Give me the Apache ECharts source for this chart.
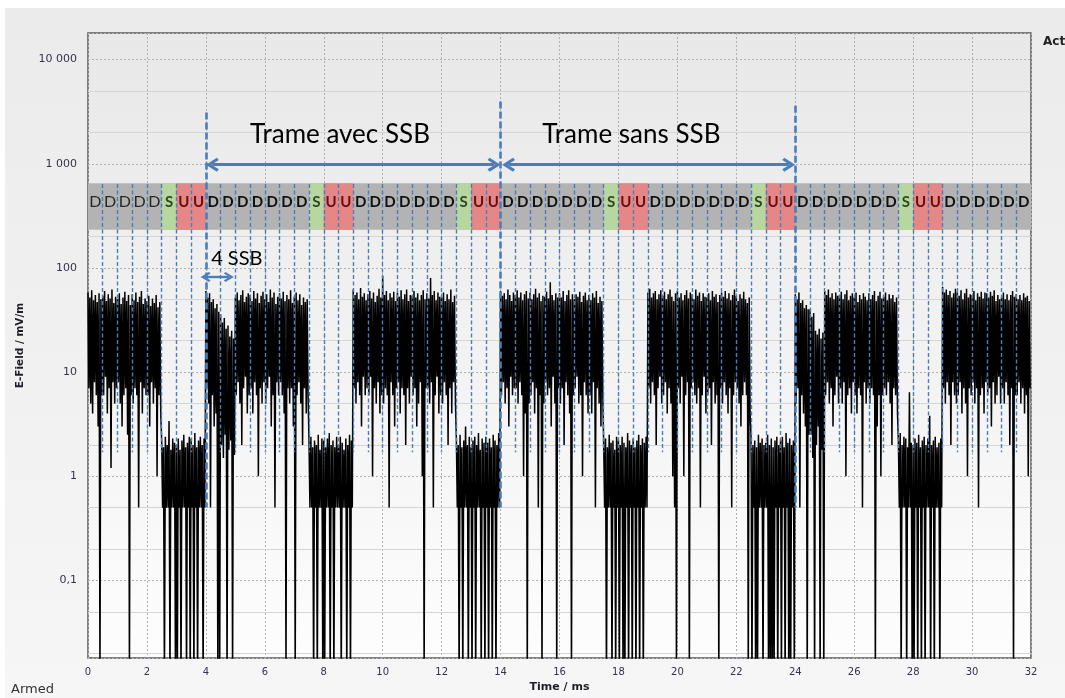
<!DOCTYPE html>
<html><head><meta charset="utf-8">
<script src="https://cdn.jsdelivr.net/npm/echarts@6/dist/echarts.min.js"></script>
<style>
html,body{margin:0;padding:0;background:#fff;}
#bg{position:absolute;left:5px;top:8px;width:1060px;height:690px;background:linear-gradient(#ebebeb,#f6f6f6);}
#main{position:absolute;left:0;top:0;width:1065px;height:698px;}
</style></head><body><div id="bg"></div><div id="main"></div>
<script>
// ---- data ----
const slotMs = 0.5;
const slotLetters = ['D','D','D','D','D','S','U','U',
 'D','D','D','D','D','D','D','S','U','U',
 'D','D','D','D','D','D','D','S','U','U',
 'D','D','D','D','D','D','D','S','U','U',
 'D','D','D','D','D','D','D','S','U','U',
 'D','D','D','D','D','D','D','S','U','U',
 'D','D','D','D','D','D'];
// peak samples per slot (mV/m), 8 per slot
const traceHi = [
[58,52,61,49,55,47,57,50],[54,60,48,56,51,62,46,53],[50,57,45,52,59,48,55,44],[56,49,58,47,53,60,45,51],
[48,54,43,51,46,55,42,47],[2.2,1.9,2.4,2.0,3.4,1.8,2.3,2.1],[2.0,2.3,1.8,2.2,2.5,1.9,2.1,2.4],[2.3,2.0,2.6,1.9,2.2,2.4,2.0,2.3],
[60,52,57,47,50,41,45,38],[36,30,33,26,28,22,25,21],[52,58,49,55,61,47,53,57],[55,48,60,51,57,46,54,59],
[50,56,47,62,52,58,45,53],[57,51,59,48,55,50,61,46],[53,58,49,56,44,52,47,50],[2.1,2.4,1.9,2.2,2.0,2.5,1.8,2.3],
[2.2,1.9,2.3,2.6,2.0,2.2,1.9,2.4],[2.0,2.4,2.1,1.8,2.3,2.0,2.5,2.2],[62,55,58,50,64,53,57,49],[56,60,51,58,47,54,63,52],
[84,55,60,49,57,52,59,48],[58,53,61,50,56,62,48,55],[54,60,52,57,49,55,61,50],[57,51,80,55,60,49,58,53],
[52,58,48,56,50,62,47,54],[2.3,2.0,2.5,1.9,2.2,3.0,2.0,2.4],[1.9,2.2,2.4,2.0,2.6,1.8,2.3,2.1],[2.4,2.1,2.3,1.9,2.5,2.2,2.0,2.6],
[60,54,57,50,62,55,48,58],[55,61,52,58,49,56,60,51],[58,50,56,63,52,57,48,54],[53,59,51,73,55,49,57,52],
[57,52,60,48,55,61,50,56],[50,56,53,59,47,54,58,49],[55,49,57,52,60,46,53,48],[2.0,2.3,1.9,2.5,2.1,2.2,1.8,2.4],
[2.2,2.0,2.4,2.1,1.9,2.6,2.2,2.0],[2.3,1.9,2.2,2.5,2.0,2.3,2.1,2.4],[58,63,52,57,60,50,56,61],[54,59,50,56,62,53,48,57],
[60,52,57,49,55,61,51,58],[56,50,62,54,58,48,57,53],[52,57,49,60,53,56,47,55],[58,53,60,51,57,49,55,62],
[54,48,56,51,59,50,46,52],[2.4,2.0,2.2,1.9,2.5,2.1,2.3,2.0],[2.1,2.5,2.0,2.3,1.9,2.2,2.4,2.0],[2.2,2.4,1.9,2.6,2.1,2.3,2.0,2.2],
[56,50,58,46,49,41,44,40],[40,34,37,25,23,26,21,24],[60,55,62,52,57,50,58,54],[55,59,50,56,61,49,54,57],
[52,58,47,55,50,57,53,49],[57,50,55,60,48,54,59,51],[53,58,49,56,51,55,47,52],[2.2,2.6,2.0,2.4,2.3,1.9,6.4,2.1],
[2.0,2.3,2.1,2.5,1.9,2.2,2.4,2.0],[2.3,3.8,2.0,2.2,2.4,1.9,2.1,2.3],[66,58,62,55,60,52,57,63],[58,54,61,50,57,63,52,56],
[55,60,49,57,53,59,51,58],[57,52,59,54,61,48,55,50],[52,58,50,56,49,55,60,53],[56,50,55,49,57,52,54,48]
];
// trough samples per slot (mV/m); 0.01 = below the axis floor
const traceLo = [
[7,5,4,8,6,3,0.01,6],[6,9,4,7,1.2,8,5,7],[8,5,3,6,7,2.5,0.01,6],[5,7,6,0.5,8,4,7,6],
[6,3,8,5,7,1,6,4],[0.5,0.01,0.5,0.5,0.01,0.5,0.5,0.01],[0.01,0.5,0.01,0.5,0.5,0.01,0.5,0.01],[0.5,0.01,0.5,0.01,0.5,0.5,0.01,0.5],
[7,5,0.5,6,3,4,0.01,0.01],[2,1.5,2.5,0.01,1.8,2.2,0.01,1.6],[6,8,5,2,7,9,4,6],[7,4,8,6,1,7,5,8],
[5,7,9,3,6,0.5,8,6],[8,6,4,0.01,7,5,7,3],[0.01,6,8,5,2,7,4,6],[0.5,0.5,0.01,0.5,0.01,0.5,0.5,0.01],
[0.01,0.5,0.5,0.01,0.5,0.01,0.5,0.5],[0.5,0.01,0.5,0.5,0.01,0.5,0.01,0.5],[7,5,8,6,3,9,6,7],[6,9,1,7,5,8,4,6],
[5,7,6,0.5,8,6,3,7],[8,4,7,6,2,7,5,9],[6,7,3,5,8,1,0.01,7],[7,5,8,0.5,6,9,4,6],
[5,8,6,2,7,4,8,5],[0.5,0.01,0.5,0.01,0.5,0.5,0.01,0.5],[0.01,0.5,0.01,0.5,0.5,0.01,0.5,0.01],[0.5,0.01,0.5,0.01,0.5,0.01,0.5,0.5],
[6,8,5,7,3,9,6,7],[7,5,8,6,1,4,0.01,5],[6,8,4,7,0.5,6,0.01,5],[8,6,7,3,9,5,0.01,7],
[5,7,2,8,6,4,0.01,6],[7,9,5,6,1,8,6,4],[6,4,8,0.5,7,5,3,6],[0.5,0.01,0.5,0.5,0.01,0.5,0.01,0.5],
[0.01,0.5,0.01,0.01,0.5,0.01,0.5,0.01],[0.5,0.01,0.5,0.01,0.5,0.01,0.5,0.5],[7,5,8,6,2,7,9,5],[6,8,4,7,5,1,0.5,0.01],
[7,5,9,1,6,8,0.01,7],[8,6,5,7,0.5,6,9,4],[6,7,2,8,5,6,0.01,7],[5,8,6,4,7,0.5,6,8],
[7,5,3,6,8,6,0.01,4],[0.01,0.5,0.01,0.01,0.5,0.5,0.01,0.5],[0.5,0.01,0.01,0.01,0.01,0.5,0.01,0.5],[0.01,0.5,0.01,0.5,0.01,0.01,0.5,0.01],
[5,7,0.5,6,4,3,0.01,2.5],[2.5,1.5,0.01,2,3,0.01,1.8,0.01],[6,8,5,7,3,6,9,5],[7,5,8,1,6,7,4,8],
[6,4,7,6,0.5,8,5,7],[5,7,6,0.01,3,6,1,6],[7,6,8,5,2,7,6,4],[0.5,0.01,0.5,0.5,0.01,0.5,0.5,0.01],
[0.01,0.5,0.01,0.5,0.01,0.5,0.01,0.5],[0.5,0.01,0.5,0.01,0.5,0.5,0.01,0.5],[7,5,8,6,2,8,6,5],[6,8,4,7,5,1,7,6],
[8,5,7,0.5,6,7,4,8],[6,7,3,8,5,6,9,5],[7,5,8,6,2,7,0.01,6],[6,8,5,7,4,6,1,7]
];
const yTickValues = [0.1, 1, 10, 100, 1000, 10000];
const yTickLabels = ['0,1', '1', '10', '100', '1 000', '10 000'];
const yMinorGrid = [0.02,0.05,0.2,0.5,2,5,20,50,200,500,2000,5000];
const bandRange = [232, 650];
const letterLevel = 430;
const slotLineRange = [640, 1.7];
const frameMarkers = [[4, 3100], [14, 3950], [24, 3600]];
const frameMarkerBottom = 0.5;
const frameArrows = [[4.0, 14.0], [14.05, 24.0]];
const frameArrowLevel = 980;
const frameLabels = [['Trame avec SSB', 8.55, 1900], ['Trame sans SSB', 18.44, 1900]];
const ssbArrow = [3.82, 4.95];
const ssbArrowLevel = 82;
const ssbLabel = ['4 SSB', 5.05, 124];

// ---- build ----
const perSlot = traceHi[0].length, step = slotMs / perSlot;
const trace = [];
traceHi.forEach((row, k) => row.forEach((h, j) => {
  const t = k * slotMs + j * step;
  trace.push([t, h]);
  trace.push([t + step / 2, traceLo[k][j]]);
}));
const blue = '#4a7ebb';
const letterColor = {D: '#111111', S: '#2d4a1a', U: '#6a0c0c'};
const slotFill = {S: '#b8d7a0', U: '#e68787'};
const nSlots = slotLetters.length;

const slotAreas = [];
slotLetters.forEach((c, k) => {
  if (slotFill[c]) slotAreas.push([{xAxis: k*slotMs, yAxis: bandRange[0], itemStyle: {color: slotFill[c], opacity: 1}}, {xAxis: (k+1)*slotMs, yAxis: bandRange[1]}]);
});
const thinLines = [];
for (let k = 1; k < nSlots; k++) {
  const t = k * slotMs;
  if (frameMarkers.some(f => Math.abs(f[0] - t) < 1e-9)) continue;
  thinLines.push([{coord: [t, slotLineRange[0]]}, {coord: [t, slotLineRange[1]]}]);
}
const thickLines = frameMarkers.map(f => [{coord: [f[0], f[1]], lineStyle: {width: 2.6, type: [7, 3], color: blue}}, {coord: [f[0], frameMarkerBottom]}]);
const letters = slotLetters.map((c, k) => ({coord: [k*slotMs + slotMs/2, letterLevel], name: c,
  label: k < 5 ? {color: '#262626', fontWeight: 'normal', fontSize: 16} : {color: letterColor[c]}}));

const chev = 'path://M7,0 L14,11 L11.6,13 L7,5.6 L2.4,13 L0,11 Z';
const pxPerMs = 942 / 32;
const bigInset = 6.5 / pxPerMs, smallInset = 5 / pxPerMs;

const chart = echarts.init(document.getElementById('main'), null, {renderer: 'canvas'});
chart.setOption({
  animation: false,
  backgroundColor: 'transparent',
  grid: {left: 88, right: 34, top: 33, bottom: 40, show: true, borderColor: '#5a5a5a', borderWidth: 1.5,
    backgroundColor: {type: 'linear', x: 0, y: 0, x2: 0, y2: 1, colorStops: [{offset: 0, color: '#e8e8e8'}, {offset: 0.45, color: '#f1f1f1'}, {offset: 1, color: '#fdfdfd'}]}},
  xAxis: {type: 'value', min: 0, max: 32, interval: 2,
    axisLine: {show: false}, axisTick: {show: false},
    axisLabel: {color: '#35334a', fontSize: 10, fontFamily: 'DejaVu Sans', margin: 9},
    splitLine: {show: true, lineStyle: {color: '#b0b0b0', type: [2, 2], width: 1}},
    name: 'Time / ms', nameLocation: 'middle', nameGap: 23,
    nameTextStyle: {fontWeight: 'bold', fontSize: 11, color: '#1e1e2a', fontFamily: 'DejaVu Sans'}},
  yAxis: {type: 'log', logBase: 10, min: 0.018, max: 18000,
    axisLine: {show: false}, axisTick: {show: false},
    axisLabel: {color: '#35334a', fontSize: 11, fontFamily: 'DejaVu Sans', margin: 11,
      formatter: v => { const i = yTickValues.findIndex(t => Math.abs(t - v) / t < 1e-6); return i >= 0 ? yTickLabels[i] : ''; }},
    splitLine: {show: true, lineStyle: {color: '#b0b0b0', type: [2, 2], width: 1}},
    name: 'E-Field / mV/m', nameLocation: 'middle', nameGap: 62, nameRotate: 90,
    nameTextStyle: {fontWeight: 'bold', fontSize: 10.5, color: '#1e1e2a', fontFamily: 'DejaVu Sans'}},
  graphic: [
    {type: 'text', left: 1043, top: 36, style: {text: 'Act', font: 'bold 12px "DejaVu Sans"', fill: '#222'}},
    {type: 'text', left: 11, top: 683, style: {text: 'Armed', font: '13px "DejaVu Sans"', fill: '#333'}}
  ],
  series: [
    {type: 'line', data: [], z: 1, silent: true,
      markLine: {z: 1, silent: true, symbol: 'none', label: {show: false}, animation: false,
        lineStyle: {color: '#d5d5d5', type: 'solid', width: 1},
        data: yMinorGrid.map(v => ({yAxis: v}))}},
    {type: 'line', data: [], z: 2, silent: true,
      markArea: {z: 2, silent: true, itemStyle: {color: '#b3b3b3', opacity: 1},
        data: [[{xAxis: 0, yAxis: bandRange[0]}, {xAxis: 32, yAxis: bandRange[1]}]]}},
    {type: 'line', data: [], z: 3, silent: true,
      markArea: {z: 3, silent: true, data: slotAreas}},
    {type: 'line', data: trace, z: 4, silent: true, showSymbol: false, symbol: 'none', clip: true,
      lineStyle: {color: '#000', width: 1.5}},
    {type: 'line', data: [], z: 5, silent: true,
      markLine: {z: 5, silent: true, symbol: 'none', label: {show: false}, animation: false,
        lineStyle: {color: blue, type: [4, 2.5], width: 1.4},
        data: thinLines.concat(thickLines)}},
    {type: 'line', data: [], z: 6, silent: true,
      markLine: {z: 6, silent: true, symbol: [chev, chev], symbolSize: [14, 13], label: {show: false}, animation: false,
        lineStyle: {color: blue, type: 'solid', width: 3},
        data: frameArrows.map(a => [{coord: [a[0] + bigInset, frameArrowLevel]}, {coord: [a[1] - bigInset, frameArrowLevel]}])
          .concat([[{coord: [ssbArrow[0] + smallInset, ssbArrowLevel], symbolSize: [10, 10], lineStyle: {width: 2.4}},
                    {coord: [ssbArrow[1] - smallInset, ssbArrowLevel], symbolSize: [10, 10]}]])},
      markPoint: {z: 7, silent: true, symbol: 'circle', symbolSize: 1, itemStyle: {color: 'rgba(0,0,0,0)'}, animation: false,
        label: {show: true, position: 'inside', formatter: '{b}', fontFamily: 'Lato', fontSize: 15, fontWeight: 'bold', color: '#111'},
        data: letters.concat(frameLabels.map(l => ({coord: [l[1], l[2]], name: l[0], label: {fontSize: 26, fontWeight: 'normal', color: '#000'}})))
          .concat([{coord: [ssbLabel[1], ssbLabel[2]], name: ssbLabel[0], label: {fontSize: 20, fontWeight: 'normal', color: '#000'}}])}}
  ]
});
</script></body></html>
